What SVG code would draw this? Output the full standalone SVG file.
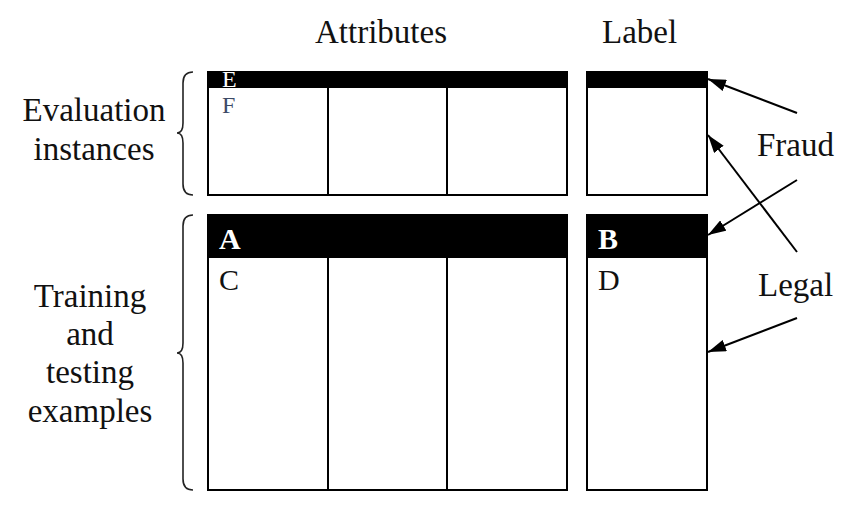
<svg xmlns="http://www.w3.org/2000/svg" width="857" height="511" viewBox="0 0 857 511">
<style>
.t{font-family:"Liberation Serif","Times New Roman",serif;font-size:33px;fill:#111;}
.c{text-anchor:middle;}
.box{fill:#fff;stroke:#000;stroke-width:2;}
.hdr{fill:#000;}
.col{stroke:#000;stroke-width:2;}
.hl{font-family:"Liberation Serif","Times New Roman",serif;font-size:30px;font-weight:bold;fill:#fff;}
.cl{font-family:"Liberation Serif","Times New Roman",serif;font-size:30px;fill:#111;}
.sm{font-family:"Liberation Serif","Times New Roman",serif;font-size:24px;}
.brace{fill:none;stroke:#222;stroke-width:1.6;}
.arr{stroke:#000;stroke-width:2;fill:none;marker-end:url(#ah);}
</style>
<defs>
<marker id="ah" markerUnits="userSpaceOnUse" markerWidth="20" markerHeight="12" refX="18" refY="6" orient="auto">
<path d="M0,0 L18,6 L0,12 Z" fill="#000"/>
</marker>
</defs>
<rect width="857" height="511" fill="#fff"/>
<g id="headers">
<text class="t" x="315" y="43">Attributes</text>
<text class="t" x="602" y="43">Label</text>
</g>
<g id="side-labels">
<text class="t c" x="94" y="121">Evaluation</text>
<text class="t c" x="94" y="160">instances</text>
<text class="t c" x="90" y="307">Training</text>
<text class="t c" x="90" y="345">and</text>
<text class="t c" x="90" y="383">testing</text>
<text class="t c" x="90" y="422">examples</text>
</g>
<g id="braces">
<path class="brace" d="M193,72 Q183,72 183,83 L183,123 Q183,133 177,133 Q183,133 183,143 L183,184 Q183,195 193,195"/>
<path class="brace" d="M193,215 Q183,215 183,226 L183,343 Q183,353 177,353 Q183,353 183,363 L183,479 Q183,490 193,490"/>
</g>
<g id="eval-attributes">
<rect class="box" x="208" y="72" width="359" height="123"/>
<rect class="hdr" x="208" y="72" width="359" height="16"/>
<line class="col" x1="328" y1="88" x2="328" y2="195"/>
<line class="col" x1="447" y1="88" x2="447" y2="195"/>
<text class="sm" x="222" y="87" fill="#fff">E</text>
<text class="sm" x="222" y="113" fill="#3d4a66">F</text>
</g>
<g id="eval-label">
<rect class="box" x="587" y="72" width="120" height="123"/>
<rect class="hdr" x="587" y="72" width="120" height="16"/>
</g>
<g id="train-attributes">
<rect class="box" x="208" y="215" width="359" height="275"/>
<rect class="hdr" x="208" y="215" width="359" height="43"/>
<line class="col" x1="328" y1="258" x2="328" y2="490"/>
<line class="col" x1="447" y1="258" x2="447" y2="490"/>
<text class="hl" x="219" y="249">A</text>
<text class="cl" x="219" y="290">C</text>
</g>
<g id="train-label">
<rect class="box" x="587" y="215" width="120" height="275"/>
<rect class="hdr" x="587" y="215" width="120" height="43"/>
<text class="hl" x="598" y="249">B</text>
<text class="cl" x="598" y="290">D</text>
</g>
<g id="class-labels">
<text class="t" x="757" y="156">Fraud</text>
<text class="t" x="758" y="296">Legal</text>
</g>
<g id="connectors">
<line class="arr" x1="797" y1="113" x2="708" y2="79"/>
<line class="arr" x1="797" y1="180" x2="708" y2="235"/>
<line class="arr" x1="797" y1="252" x2="708" y2="135"/>
<line class="arr" x1="797" y1="318" x2="708" y2="352"/>
</g>
</svg>
